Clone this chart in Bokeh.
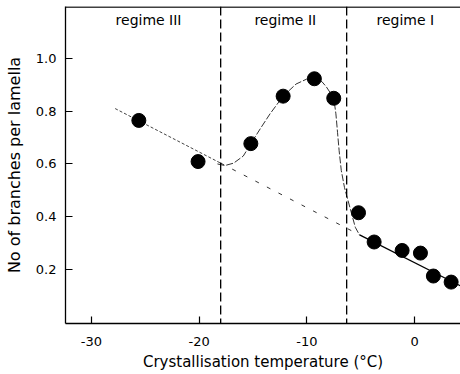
from bokeh.plotting import figure
from bokeh.models import Range1d, FixedTicker, Span, Label
from bokeh.embed import file_html
from bokeh.resources import INLINE

# ---- data ----
pts_x = [-25.6, -20.1, -15.2, -12.2, -9.3, -7.5, -5.2, -3.75, -1.15, 0.55, 1.75, 3.4]
pts_y = [0.765, 0.609, 0.677, 0.857, 0.923, 0.849, 0.415, 0.304, 0.272, 0.262, 0.175, 0.152]

# straight trend line (regime III dotted, regime II dashed, regime I solid)
line3_x = [-27.8, -18.0]
line3_y = [0.810, 0.603]
line2_x = [-18.0, -5.1]
line2_y = [0.603, 0.331]
line1_x = [-5.1, 4.3]
line1_y = [0.331, 0.137]

# regime II curve
curve_x = [-18.3, -17.6, -16.8, -15.9, -15.2, -14.3, -13.4, -12.2, -11.0, -10.0,
           -9.3, -8.6, -8.2, -7.5, -7.3, -7.15, -7.0, -6.8, -6.5, -6.0, -5.5, -5.1]
curve_y = [0.600, 0.594, 0.603, 0.630, 0.677, 0.735, 0.791, 0.857, 0.903, 0.922,
           0.925, 0.912, 0.893, 0.850, 0.790, 0.720, 0.650, 0.575, 0.510, 0.435, 0.360, 0.330]

regime_bounds = [-18.0, -6.3]
regime_names = ["regime III", "regime II", "regime I"]
regime_label_x = [-24.7, -12.0, -0.85]
regime_label_y = 1.144

x_ticks = [-30, -20, -10, 0]
x_tick_labels = ["-30", "-20", "-10", "0"]
y_ticks = [0.2, 0.4, 0.6, 0.8, 1.0]
y_tick_labels = ["0.2", "0.4", "0.6", "0.8", "1.0"]

FONT = "DejaVu Sans"

p = figure(width=460, height=374, output_backend="svg", toolbar_location=None,
           x_range=Range1d(-32.41, 4.27), y_range=Range1d(-0.005, 1.197),
           min_border_left=65, min_border_right=0, min_border_top=6, min_border_bottom=51)
p.background_fill_color = "white"
p.border_fill_color = "white"
p.outline_line_color = None
p.grid.visible = False

# axes
p.xaxis.ticker = FixedTicker(ticks=x_ticks)
p.xaxis.major_label_overrides = dict(zip(x_ticks, x_tick_labels))
p.yaxis.ticker = FixedTicker(ticks=y_ticks)
p.yaxis.major_label_overrides = dict(zip(y_ticks, y_tick_labels))
for ax in (p.xaxis, p.yaxis):
    ax.major_tick_in = 7
    ax.major_tick_out = 0
    ax.minor_tick_line_color = None
    ax.axis_line_color = "black"
    ax.axis_line_width = 1.3
    ax.major_tick_line_color = "black"
    ax.major_tick_line_width = 1.2
    ax.major_label_text_font = FONT
    ax.major_label_text_font_size = "13px"
    ax.major_label_text_color = "black"
    ax.axis_label_text_font = FONT
    ax.axis_label_text_font_style = "normal"
    ax.axis_label_text_color = "black"
p.xaxis.axis_label_text_font_size = "15px"
p.yaxis.axis_label_text_font_size = "16px"
p.xaxis.axis_label = "Crystallisation temperature (°C)"
p.yaxis.axis_label = "No of branches per lamella"
p.xaxis.major_label_standoff = 13
p.yaxis.major_label_standoff = 9
p.xaxis.axis_label_standoff = 4
p.yaxis.axis_label_standoff = 9

# top border line
p.add_layout(Span(location=1.195, dimension="width", line_color="black", line_width=1.6))

# regime boundaries
for b in regime_bounds:
    p.add_layout(Span(location=b, dimension="height", line_color="black",
                      line_width=1.3, line_dash="9 4"))

# trend lines
p.line(line3_x, line3_y, line_color="#444444", line_width=1.0, line_dash="3 2")
p.line(line2_x, line2_y, line_color="#333333", line_width=1.0, line_dash="4 9")
p.line(line1_x, line1_y, line_color="black", line_width=1.3)
p.line(curve_x, curve_y, line_color="#333333", line_width=1.0, line_dash="7 2")

# data points
p.scatter(pts_x, pts_y, size=14, marker="circle", fill_color="black", line_color="black")

for name, lx in zip(regime_names, regime_label_x):
    p.add_layout(Label(x=lx, y=regime_label_y, text=name, text_font=FONT,
                       text_font_size="14px", text_align="center",
                       text_baseline="middle", text_color="black"))

open("out.html", "w").write(file_html(p, INLINE))
